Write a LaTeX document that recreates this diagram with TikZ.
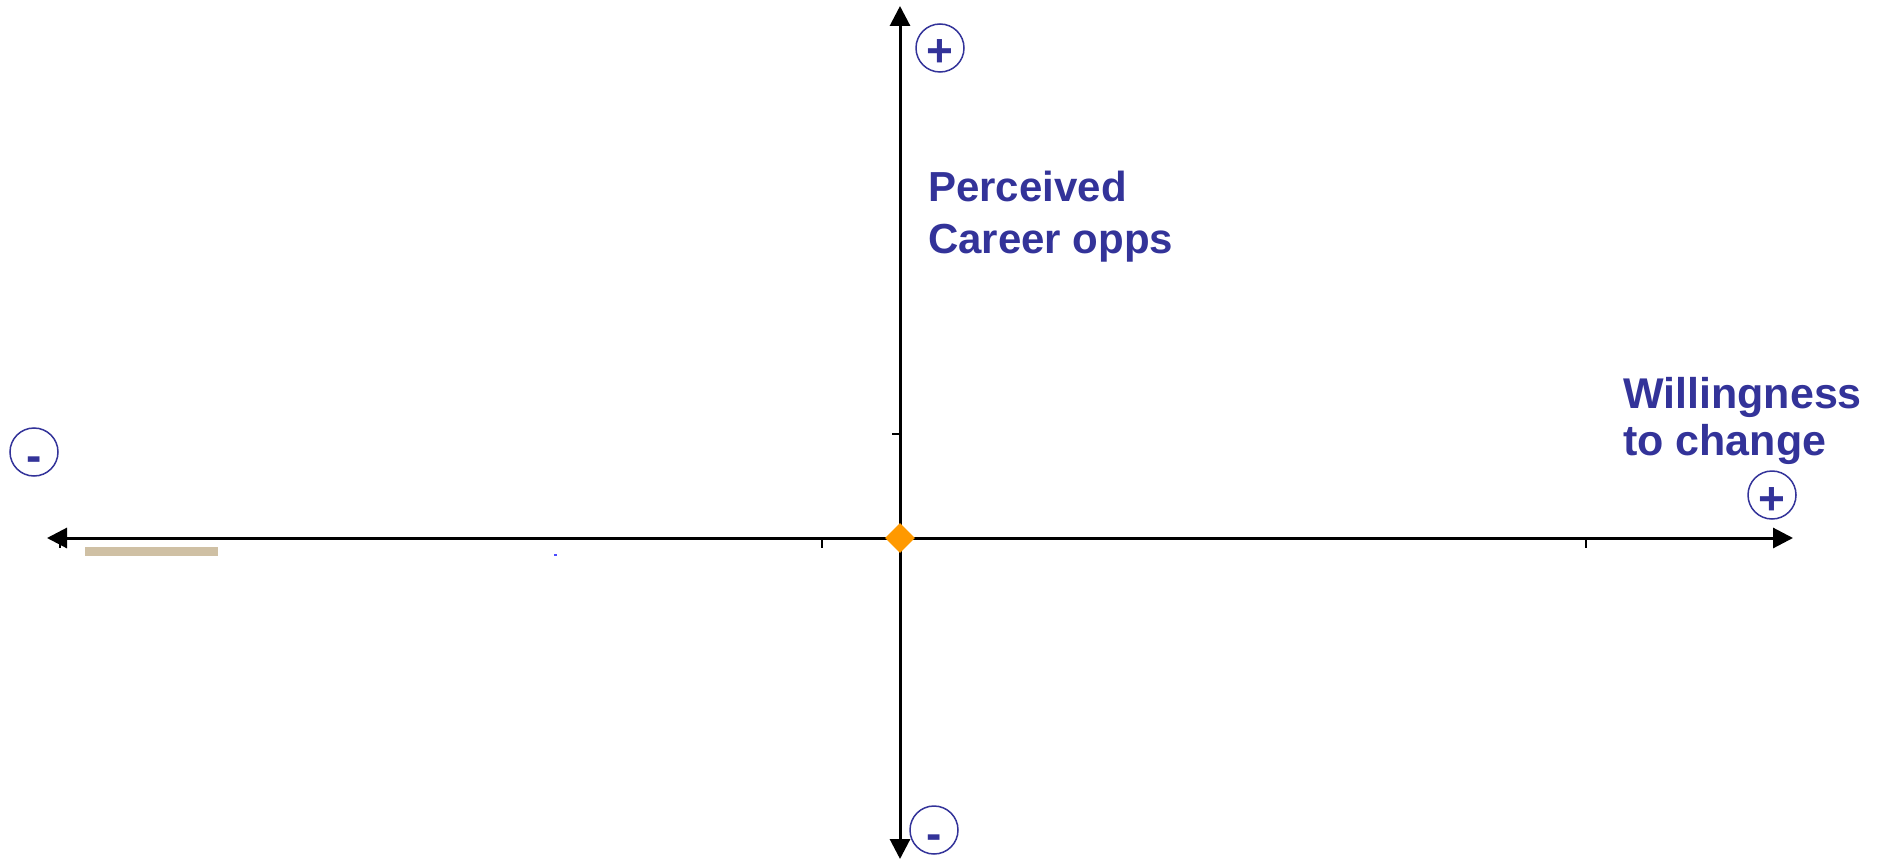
\documentclass[tikz,border=0pt]{standalone}
\usepackage{fontspec}
\usepackage{tikz}
\usetikzlibrary{arrows.meta,shapes.geometric}
\newfontfamily\labelfont{Liberation Sans}
\definecolor{AxisBlue}{HTML}{333399}
\definecolor{MarkOrange}{HTML}{FF9900}
\definecolor{BarTan}{HTML}{CFC0A4}
\newcommand{\signtext}[1]{\raisebox{-19pt}[0pt][0pt]{#1}}

\begin{document}
\begin{tikzpicture}[
    x=1pt, y=-1pt,
    every node/.style={font=\labelfont\bfseries},
    axis/.style={line width=3pt,{Triangle[length=20pt,width=20pt]}-{Triangle[length=20pt,width=20pt]}},
    tick/.style={line width=2pt},
    signcircle/.style={draw=AxisBlue,line width=1.5pt,circle,minimum size=48pt,inner sep=0pt,text=AxisBlue,font=\labelfont\bfseries\fontsize{46}{46}\selectfont},
    axislabel/.style={text=AxisBlue,align=left,inner sep=0pt,anchor=base west},
    origindot/.style={diamond,fill=MarkOrange,inner sep=0pt,minimum size=30pt}
]
  \useasboundingbox (0,0) rectangle (1878,861);

  \coordinate (origin) at (900,538);
  \coordinate (xmin) at (47,538);
  \coordinate (xmax) at (1793,538);
  \coordinate (ymax) at (900,6);
  \coordinate (ymin) at (900,859);

  % axes
  \draw[axis] (xmin) -- (xmax);
  \draw[axis] (ymin) -- (ymax);

  % ticks
  \foreach \tx in {60,822,1586}
    \draw[tick] (\tx,538) -- (\tx,548);
  \draw[tick] (892,434) -- (900,434);

  % leftovers under the axis
  \fill[BarTan] (85,547) rectangle (218,556);
  \fill[blue!70] (554,554) rectangle (557,556);

  \node[origindot] (mark) at (origin) {};

  \node[signcircle] (ypos) at (940,48) {\signtext{+}};
  \node[signcircle] (yneg) at (934,830) {\signtext{-}};
  \node[signcircle] (xneg) at (34,452) {\signtext{-}};
  \node[signcircle] (xpos) at (1772,495) {\signtext{+}};

  \node[axislabel,font=\labelfont\bfseries\fontsize{42}{52}\selectfont] (career) at (928,253) {Perceived\\Career opps};
  \node[axislabel,font=\labelfont\bfseries\fontsize{43}{47}\selectfont] (change) at (1623,455) {Willingness\\to change};
\end{tikzpicture}
\end{document}
